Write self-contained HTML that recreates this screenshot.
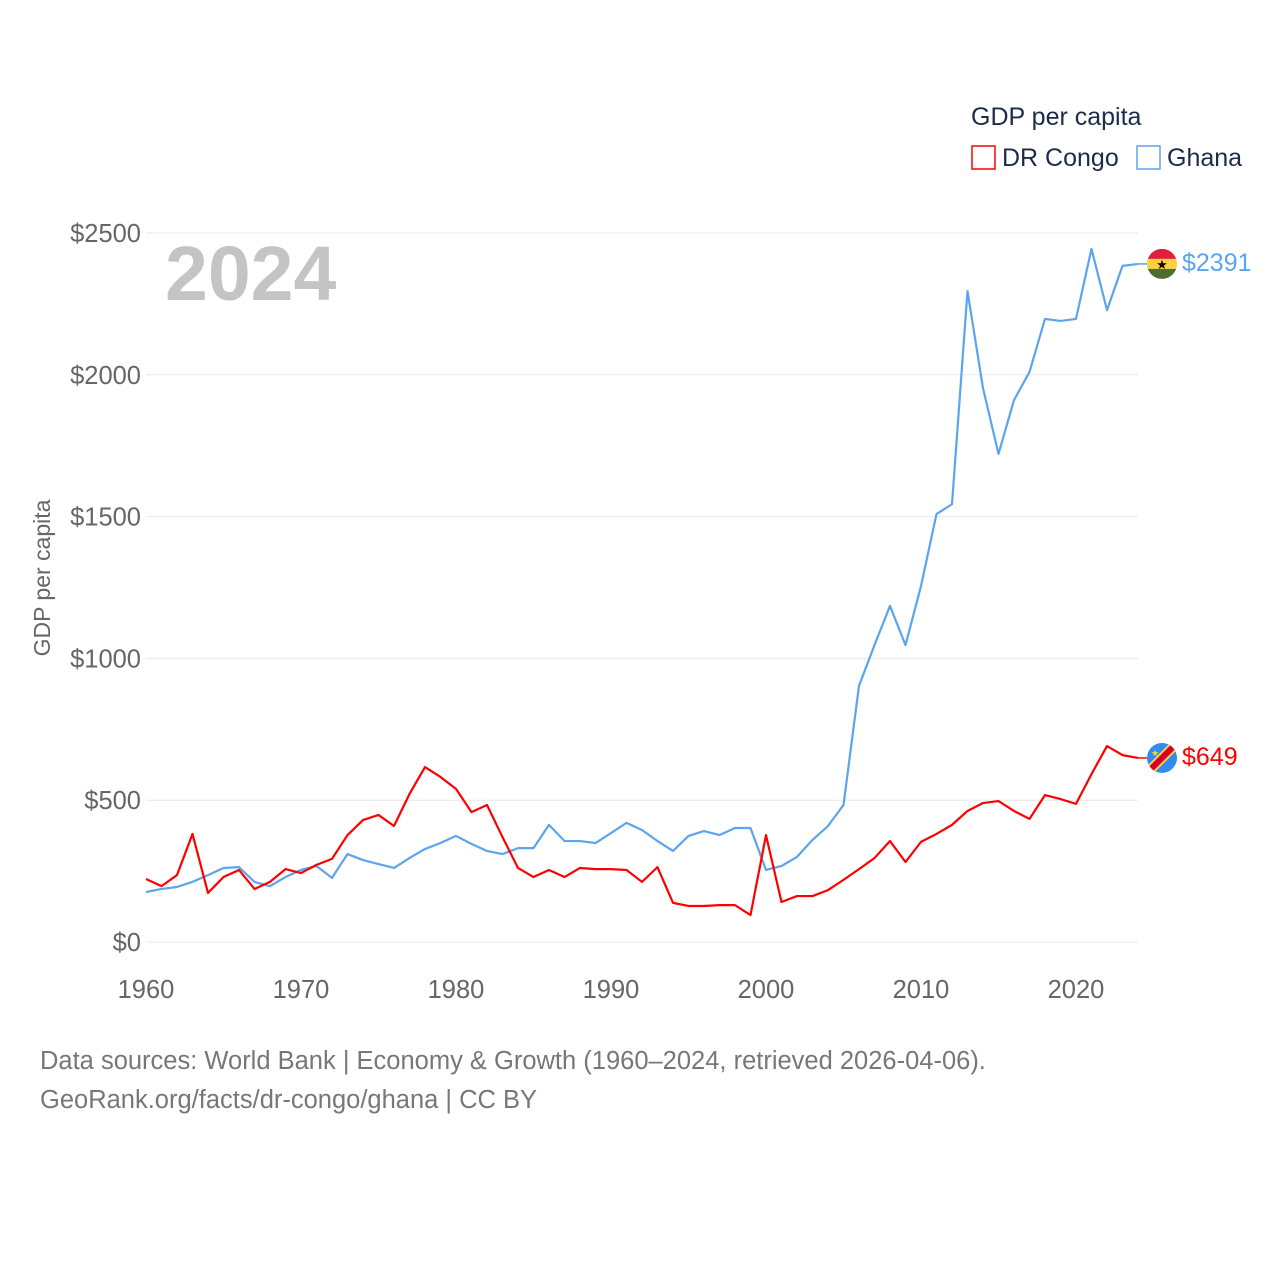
<!DOCTYPE html>
<html><head><meta charset="utf-8"><style>
body{margin:0;background:#fff;}
svg{display:block;font-family:"Liberation Sans",sans-serif;}
</style></head><body>
<svg id="chart" width="1280" height="1280" viewBox="0 0 1280 1280">
<text x="971" y="125" font-size="25" fill="#1d2b4a">GDP per capita</text>
<rect x="972" y="146" width="23" height="23" fill="none" stroke="#ff0000" stroke-width="1.5"/>
<text x="1002" y="166" font-size="25" fill="#1d2b4a">DR Congo</text>
<rect x="1137" y="146" width="23" height="23" fill="none" stroke="#5ba4ee" stroke-width="1.5"/>
<text x="1167" y="166" font-size="25" fill="#1d2b4a">Ghana</text>
<text x="165" y="300" font-size="77" font-weight="bold" fill="#c4c4c4">2024</text>
<text transform="translate(50,578) rotate(-90)" text-anchor="middle" font-size="23" fill="#666">GDP per capita</text>
<g id="grid"></g><g id="series"></g>
<text x="40" y="1069" font-size="25.5" fill="#777">Data sources: World Bank | Economy &amp; Growth (1960–2024, retrieved 2026-04-06).</text>
<text x="40" y="1108" font-size="25.5" fill="#777">GeoRank.org/facts/dr-congo/ghana | CC BY</text>
</svg>
<script>
const years=[];for(let y=1960;y<=2024;y++)years.push(y);
const yTicks=[0,500,1000,1500,2000,2500];
const xTicks=[1960,1970,1980,1990,2000,2010,2020];
const ghana=[176,187,194,212,236,261,264,212,197,229,254,268,226,310,289,275,261,296,328,349,374,346,321,310,331,331,413,356,356,349,384,420,395,356,321,374,391,377,402,402,254,268,300,360,409,483,903,1047,1185,1047,1255,1509,1544,2295,1953,1721,1911,2010,2197,2190,2197,2444,2228,2384,2391];
const drc=[222,197,236,381,173,229,254,187,212,257,243,272,293,377,430,448,409,522,617,582,540,458,483,370,261,229,254,229,261,257,257,254,212,264,138,127,127,130,130,95,377,141,162,162,183,219,257,296,356,282,353,381,413,462,490,497,462,434,518,504,487,592,691,659,649];
const NS='http://www.w3.org/2000/svg';
const X=y=>146+(y-1960)*15.5;
const Y=v=>942-v*0.2836;
const grid=document.getElementById('grid'),ser=document.getElementById('series');
function el(t,a,p){const e=document.createElementNS(NS,t);for(const k in a)e.setAttribute(k,a[k]);p.appendChild(e);return e;}
yTicks.forEach(v=>{
 const l=el('line',{x1:146,x2:1138,y1:Y(v),y2:Y(v),stroke:'#e8e8e8','stroke-width':1},grid);
 
 
 const t=el('text',{x:141,y:Y(v)+9,'text-anchor':'end','font-size':25.5,fill:'#666'},grid);
 t.textContent='$'+v;
 
 
});
xTicks.forEach(v=>{
 const t=el('text',{x:X(v),y:998,'text-anchor':'middle','font-size':25.5,fill:'#666'},grid);
 t.textContent=v;
 
 
});
function line(data,color,name){
 const p=el('polyline',{points:data.map((v,i)=>X(years[i])+','+Y(v)).join(' '),fill:'none',stroke:color,'stroke-width':2.2,'stroke-linejoin':'round'},ser);
 
 
}
line(ghana,'#5ba4ee','ghana-line');
line(drc,'#ff0000','drc-line');
function endLabel(data,color,name,flag){
 const v=data[data.length-1],y=Y(v),cx=1162;
 const ln=el('line',{x1:1138,x2:cx-15,y1:y,y2:y,stroke:color,'stroke-width':1.5},ser);
 
 
 const g=el('g',{},ser);
 
 
 const cid='c'+name;
 const cp=el('clipPath',{id:cid},g);el('circle',{cx:cx,cy:y,r:15},cp);
 const gg=el('g',{'clip-path':'url(#'+cid+')'},g);
 flag(gg,cx,y);
 const t=el('text',{x:1182,y:y+7,'font-size':25,fill:color},ser);
 t.textContent='$'+v;
 
 
}
endLabel(ghana,'#5ba4ee','ghana',(g,cx,cy)=>{
 el('rect',{x:cx-15,y:cy-15,width:30,height:10,fill:'#e0203a'},g);
 el('rect',{x:cx-15,y:cy-5,width:30,height:10,fill:'#fcd13a'},g);
 el('rect',{x:cx-15,y:cy+5,width:30,height:10,fill:'#496e2d'},g);
 const s=el('text',{x:cx,y:cy+5,'text-anchor':'middle','font-size':13,fill:'#000'},g);s.textContent='★';
});
endLabel(drc,'#ff0000','drc',(g,cx,cy)=>{
 el('rect',{x:cx-15,y:cy-15,width:30,height:30,fill:'#338af3'},g);
 el('line',{x1:cx-18,y1:cy+18,x2:cx+18,y2:cy-18,stroke:'#fcd13a','stroke-width':10},g);
 el('line',{x1:cx-18,y1:cy+18,x2:cx+18,y2:cy-18,stroke:'#d80027','stroke-width':6},g);
 const s=el('text',{x:cx-7,y:cy-2,'text-anchor':'middle','font-size':9,fill:'#fcd13a'},g);s.textContent='★';
});
</script>
</body></html>
